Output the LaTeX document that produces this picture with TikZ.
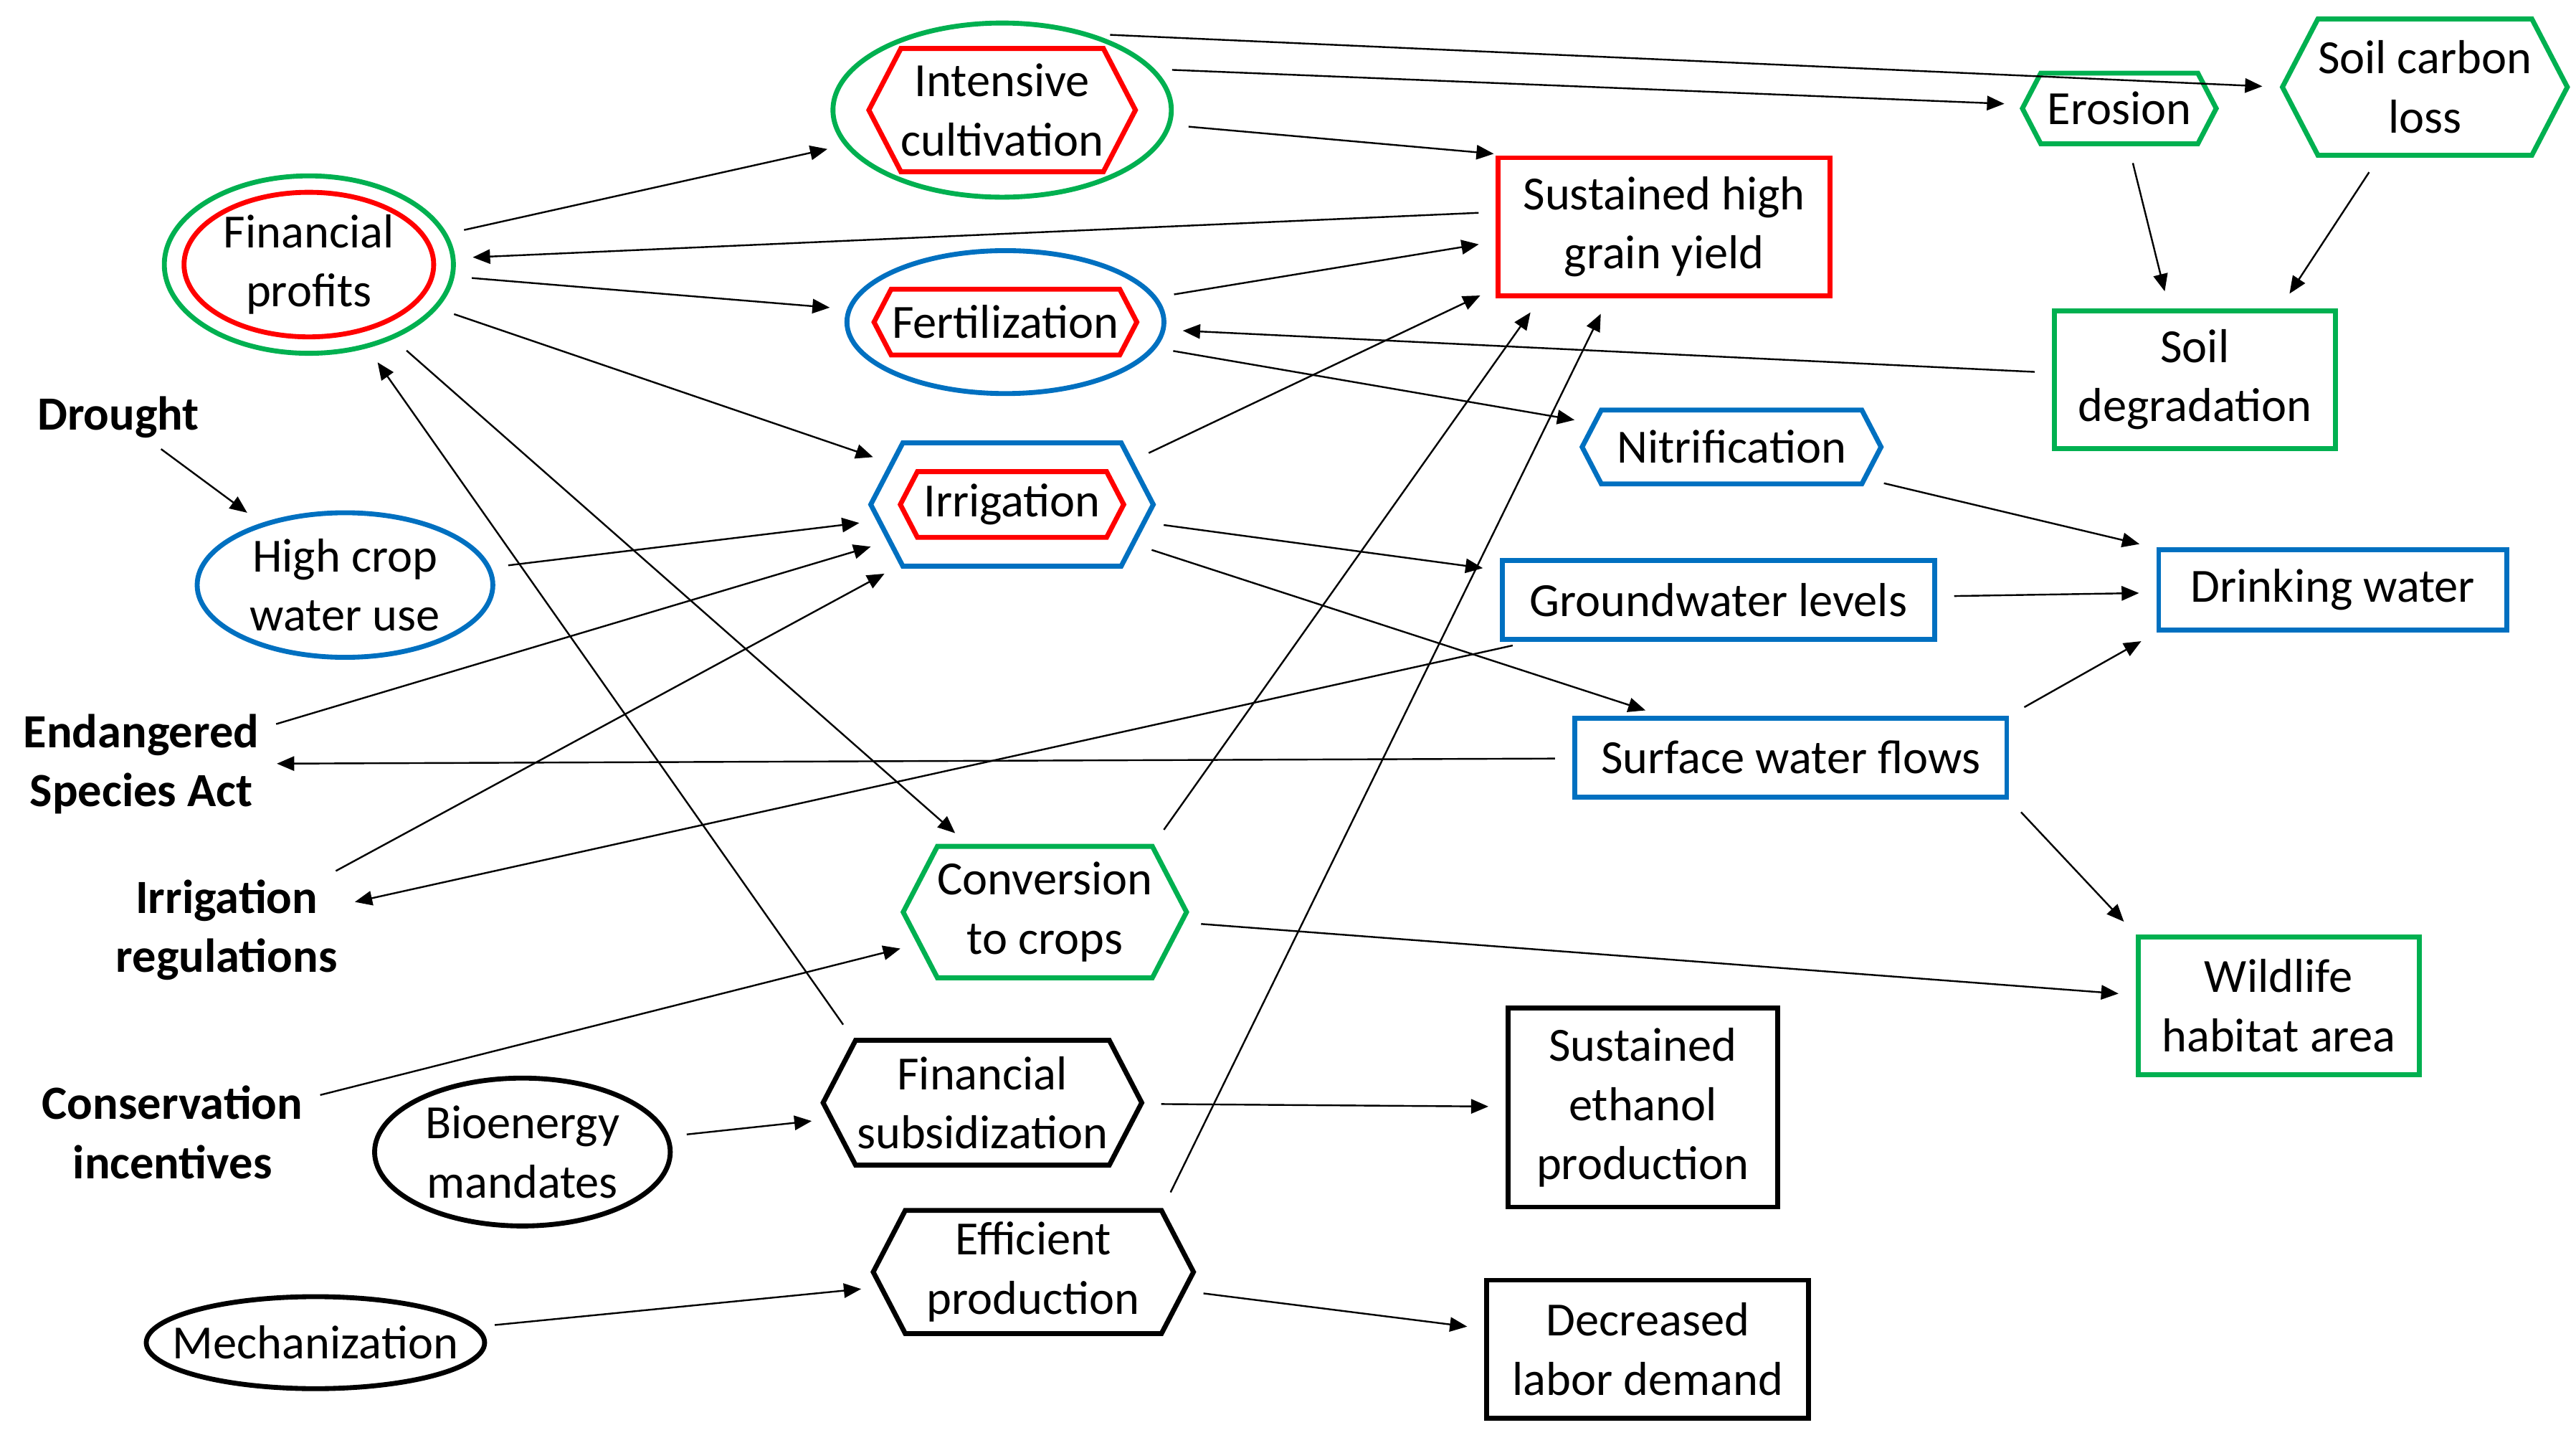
\documentclass[tikz,border=0pt]{standalone}
\usepackage{fontspec}
\setmainfont{Carlito}
\usetikzlibrary{shapes.geometric,shapes.symbols,arrows.meta}
\definecolor{gr}{RGB}{0,176,80}
\definecolor{rd}{RGB}{255,0,0}
\definecolor{bl}{RGB}{0,112,192}
\begin{document}
\begin{tikzpicture}[x=0.02cm,y=-0.02cm,
  every node/.style={font=\fontsize{16.5}{20.5}\selectfont,align=center,inner sep=0pt},
  ell/.style={ellipse,line width=1.7pt},
  hex/.style={signal,signal to=west and east,signal pointer angle=125,line width=1.7pt},
  box/.style={rectangle,line width=1.7pt},
  lbl/.style={font=\fontsize{16.5}{20.5}\selectfont\bfseries},
  ar/.style={-{Triangle[length=6pt,width=5pt]},line width=0.6pt,shorten >=6pt,shorten <=6pt}]
\useasboundingbox (0,0) rectangle (1568,881);
% double shapes
\node[ell,draw=gr,minimum width=4.12cm,minimum height=2.12cm] (int) at (610,67) {};
\node[hex,draw=rd,minimum width=3.2cm,minimum height=1.5cm] (inti) at (610,67) {Intensive\\cultivation};
\node[ell,draw=gr,minimum width=3.52cm,minimum height=2.16cm] (fp) at (188,161) {};
\node[ell,draw=rd,minimum width=3.04cm,minimum height=1.76cm] (fpi) at (188,161) {Financial\\profits};
\node[ell,draw=bl,minimum width=3.86cm,minimum height=1.74cm] (fert) at (612,196) {};
\node[hex,draw=rd,minimum width=3.2cm,minimum height=0.8cm] (ferti) at (612,196) {Fertilization};
\node[hex,draw=bl,minimum width=3.44cm,minimum height=1.5cm] (irr) at (616,307) {};
\node[hex,draw=rd,minimum width=2.72cm,minimum height=0.8cm] (irri) at (616,307) {Irrigation};
% single
\node[ell,draw=bl,minimum width=3.6cm,minimum height=1.76cm] (hcw) at (210,356) {High crop\\water use};
\node[ell,draw=black,minimum width=3.6cm,minimum height=1.8cm] (bio) at (318,701) {Bioenergy\\mandates};
\node[ell,draw=black,minimum width=4.12cm,minimum height=1.12cm] (mech) at (192,817) {};
\node (mecht) at (192,817) {Mechanization};
\node[lbl] (dr) at (72,254) {Drought};
\node[lbl] (esa) at (86,465) {Endangered\\Species Act};
\node[lbl] (ir) at (138,566) {Irrigation\\regulations};
\node[lbl] (ci) at (105,689) {Conservation\\incentives};
\node[hex,draw=gr,minimum width=3.32cm,minimum height=1.6cm] (conv) at (636,555) {Conversion\\to crops};
\node[hex,draw=black,minimum width=3.88cm,minimum height=1.52cm] (fs) at (598,671) {Financial\\subsidization};
\node[hex,draw=black,minimum width=3.9cm,minimum height=1.5cm] (eff) at (629,774) {Efficient\\production};
\node[box,draw=rd,minimum width=4.04cm,minimum height=1.68cm] (sg) at (1013,138) {Sustained high\\grain yield};
\node[hex,draw=gr,minimum width=2.36cm,minimum height=0.86cm] (ero) at (1290,66) {Erosion};
\node[hex,draw=gr,minimum width=3.4cm,minimum height=1.66cm] (scl) at (1476,53) {Soil carbon\\loss};
\node[box,draw=gr,minimum width=3.42cm,minimum height=1.68cm] (sd) at (1336,231) {Soil\\degradation};
\node[hex,draw=bl,minimum width=3.64cm,minimum height=0.9cm] (nit) at (1054,272) {Nitrification};
\node[box,draw=bl,minimum width=4.24cm,minimum height=0.98cm] (dw) at (1420,359) {Drinking water};
\node[box,draw=bl,minimum width=5.26cm,minimum height=0.96cm] (gw) at (1046,365) {Groundwater levels};
\node[box,draw=bl,minimum width=5.26cm,minimum height=0.96cm] (sw) at (1090,461) {Surface water flows};
\node[box,draw=gr,minimum width=3.42cm,minimum height=1.68cm] (wh) at (1387,612) {Wildlife\\habitat area};
\node[box,draw=black,minimum width=3.28cm,minimum height=2.42cm] (se) at (1000,674) {Sustained\\ethanol\\production};
\node[box,draw=black,minimum width=3.92cm,minimum height=1.68cm] (dl) at (1003,821) {Decreased\\labor demand};
% arrows
\draw[ar] (fp) -- (int);
\draw[ar] (int.40) -- (scl.west);
\draw[ar] (int.15) -- (ero);
\draw[ar] (int) -- (sg.155);
\draw[ar] (sg.175) -- (fp);
\draw[ar] (fp) -- (fert);
\draw[ar] (fert) -- (sg.185);
\draw[ar] (sd) -- (fert);
\draw[ar] (fert) -- (nit);
\draw[ar] (fp) -- (irr);
\draw[ar] (irr.20) -- (sg.200);
\draw[ar] (ero) -- (sd.110);
\draw[ar] (scl) -- (sd.40);
\draw[ar] (nit) -- (dw);
\draw[ar] (dr) -- (hcw);
\draw[ar] (hcw) -- (irr);
\draw[ar] (esa) -- (irr);
\draw[ar] (ir) -- (irr);
\draw[ar] (irr) -- (gw);
\draw[ar] (gw) -- (dw);
\draw[ar] (irr) -- (sw);
\draw[ar] (sw) -- (esa);
\draw[ar] (gw) -- (ir);
\draw[ar] (sw.north east) -- (dw.south west);
\draw[ar] (sw.south east) -- (wh.north west);
\draw[ar] (fp) -- (conv);
\draw[ar] (conv.north east) -- (sg.210);
\draw[ar] (conv) -- (wh);
\draw[ar] (fs.north west) -- (fp);
\draw[ar] (ci) -- (conv);
\draw[ar] (bio) -- (fs);
\draw[ar] (fs) -- (se);
\draw[ar] (eff.north east) -- (sg.232);
\draw[ar] (mech) -- (eff);
\draw[ar] (eff) -- (dl);
\end{tikzpicture}
\end{document}
